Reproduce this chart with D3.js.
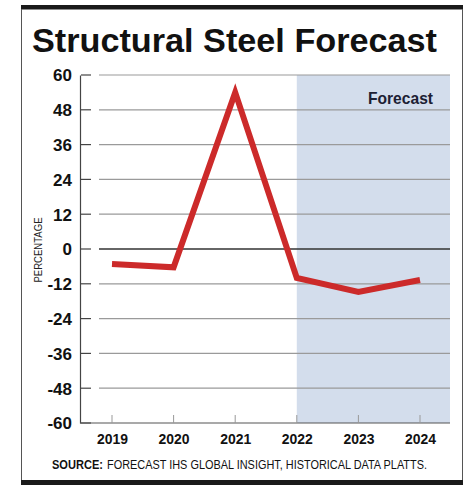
<!DOCTYPE html>
<html><head><meta charset="utf-8">
<script src="https://cdn.jsdelivr.net/npm/d3@7/dist/d3.min.js"></script>
<style>
body{margin:0;background:#fff;}
svg{display:block;}
</style></head>
<body>
<svg id="c" width="474" height="495"></svg>
<script>
const years = ["2019","2020","2021","2022","2023","2024"];
const values = [-5.2, -6.3, 54, -10, -14.8, -10.7];
const yTicks = [60,48,36,24,12,0,-12,-24,-36,-48,-60];
const forecastStart = "2022";
const title = "Structural Steel Forecast";
const yLabel = "PERCENTAGE";
const sourceBold = "SOURCE:";
const sourceText = "FORECAST IHS GLOBAL INSIGHT, HISTORICAL DATA PLATTS.";
const forecastLabel = "Forecast";

const ff = "'Liberation Sans',Arial,Helvetica,sans-serif";
const svg = d3.select("#c");

// frame
svg.append("rect").attr("x",21).attr("y",5).attr("width",442).attr("height",4.5).attr("fill","#1a1a1a");
svg.append("rect").attr("x",21).attr("y",480).attr("width",442).attr("height",5).attr("fill","#1a1a1a");
svg.append("line").attr("x1",21.5).attr("x2",21.5).attr("y1",9).attr("y2",480).attr("stroke","#555").attr("stroke-width",1);
svg.append("line").attr("x1",462.5).attr("x2",462.5).attr("y1",9).attr("y2",480).attr("stroke","#555").attr("stroke-width",1);

// title
svg.append("text").attr("x",32).attr("y",52).text(title)
  .attr("font-family",ff).attr("font-weight","bold")
  .attr("font-size",33).attr("fill","#111")
  .attr("textLength",405).attr("lengthAdjust","spacingAndGlyphs");

const x0 = 80, x1 = 450, yTop = 75, yBot = 423;
const x = d3.scalePoint().domain(years).range([112, 420]);
const y = d3.scaleLinear().domain([-60,60]).range([yBot, yTop]);

// forecast shading
const fx = x(forecastStart);
svg.append("rect").attr("x",fx).attr("y",yTop).attr("width",x1-fx).attr("height",yBot-yTop).attr("fill","#d3ddec");

// gridlines
svg.append("g").selectAll("line").data(yTicks.filter(d=>d!==-60)).join("line")
  .attr("x1",99).attr("x2",x1).attr("y1",d=>y(d)).attr("y2",d=>y(d))
  .attr("stroke",d=>d===0?"#333":"#9a9a9a").attr("stroke-width",d=>d===0?1.6:1.2);

// y axis
const yAxis = d3.axisLeft(y).tickValues(yTicks).tickSize(0).tickPadding(8).tickFormat(d=>d);
const gy = svg.append("g").attr("transform",`translate(${x0},0)`).call(yAxis);
gy.select(".domain").attr("stroke","#444").attr("stroke-width",1.2);
gy.selectAll("text").attr("font-family",ff).attr("font-weight","bold").attr("font-size",17).attr("fill","#111").attr("dy","0.35em");
svg.append("g").selectAll("line").data(yTicks).join("line")
  .attr("x1",x0+1).attr("x2",x0+11).attr("y1",d=>y(d)).attr("y2",d=>y(d))
  .attr("stroke","#444").attr("stroke-width",1.2);

// x axis
const xAxis = d3.axisBottom(x).tickSize(0).tickPadding(10);
const gx = svg.append("g").attr("transform",`translate(0,${yBot})`).call(xAxis);
gx.select(".domain").attr("d",`M${x0},0H${x1}`).attr("stroke","#555").attr("stroke-width",1.2);
gx.selectAll("text").attr("font-family",ff).attr("font-weight","bold").attr("font-size",15.5).attr("fill","#111")
  .attr("dy","0.71em").attr("textLength",31).attr("lengthAdjust","spacingAndGlyphs");
svg.append("g").selectAll("line").data(years).join("line")
  .attr("x1",d=>x(d)).attr("x2",d=>x(d)).attr("y1",yBot).attr("y2",yBot-8)
  .attr("stroke","#999").attr("stroke-width",1);

// y label
svg.append("text").attr("transform",`translate(42,250) rotate(-90)`).attr("text-anchor","middle")
  .attr("font-family",ff).attr("font-size",11).attr("fill","#222")
  .attr("textLength",65).attr("lengthAdjust","spacingAndGlyphs").text(yLabel);

// forecast label
svg.append("text").attr("x",433).attr("y",104).attr("text-anchor","end")
  .attr("font-family",ff).attr("font-weight","bold").attr("font-size",17).attr("fill","#1c2033")
  .attr("textLength",65).attr("lengthAdjust","spacingAndGlyphs").text(forecastLabel);

// line
const line = d3.line().x((d,i)=>x(years[i])).y(d=>y(d));
svg.append("path").datum(values).attr("d",line).attr("fill","none")
  .attr("stroke","#cc2a2a").attr("stroke-width",6).attr("stroke-linejoin","miter").attr("stroke-miterlimit",10);

// source
svg.append("text").attr("x",52).attr("y",469).attr("font-family",ff).attr("font-size",12.5).attr("font-weight","bold").attr("fill","#111")
  .attr("textLength",51).attr("lengthAdjust","spacingAndGlyphs").text(sourceBold);
svg.append("text").attr("x",107).attr("y",469).attr("font-family",ff).attr("font-size",12.5).attr("fill","#111")
  .attr("textLength",320).attr("lengthAdjust","spacingAndGlyphs").text(sourceText);
</script>
</body></html>
